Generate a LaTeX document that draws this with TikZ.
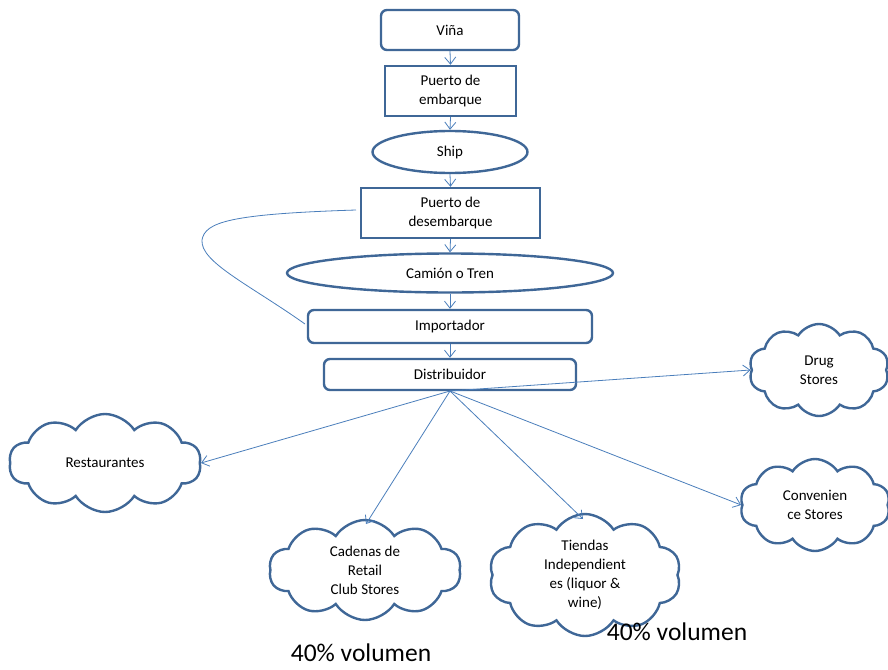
\documentclass[tikz,border=0pt]{standalone}
\usepackage{fontspec}
\setmainfont{Carlito}
\usetikzlibrary{shapes.geometric,shapes.symbols,arrows.meta}
\definecolor{boxline}{HTML}{3F6797}
\definecolor{arrowc}{HTML}{4A7EBB}
\tikzset{
  base/.style={draw=boxline, line width=2.4pt, fill=white, align=center, font=\fontsize{15}{19}\selectfont, inner sep=0pt},
  rbox/.style={base, rounded corners=6pt},
  sbox/.style={base},
  ell/.style={base, ellipse},
  cloudn/.style={base, cloud, cloud puffs=10, cloud puff arc=115, cloud ignores aspect, line width=2.4pt},
  arr/.style={draw=arrowc, line width=0.8pt, -{Straight Barb[length=7pt,width=11pt]}},
  thinline/.style={draw=arrowc, line width=0.8pt},
  vol/.style={font=\fontsize{25.5}{30}\selectfont, inner sep=0pt}
}
\begin{document}
\begin{tikzpicture}[x=1pt,y=-1pt]
\useasboundingbox (0,0) rectangle (888,669);
\node[rbox, minimum width=138pt, minimum height=40pt] (vina) at (450,30) {Viña};
\node[sbox, minimum width=131pt, minimum height=50pt] (pemb) at (450.5,91) {Puerto de\\embarque};
\node[ell, minimum width=155pt, minimum height=42pt] (ship) at (450,152) {Ship};
\node[sbox, minimum width=179pt, minimum height=50pt] (pdes) at (450.5,213) {Puerto de\\desembarque};
\node[ell, minimum width=326pt, minimum height=39pt] (cam) at (450,273) {Camión o Tren};
\node[rbox, minimum width=284pt, minimum height=33pt] (imp) at (450,326.5) {Importador};
\node[rbox, minimum width=252pt, minimum height=31pt] (dist) at (450,374.5) {Distribuidor};

\node[cloudn, minimum width=140pt, minimum height=92pt] (drug) at (819,370) {Drug\\Stores};
\node[cloudn, minimum width=192pt, minimum height=98pt] (rest) at (105,463) {Restaurantes};
\node[cloudn, minimum width=192pt, minimum height=100pt] (cad) at (365,570) {Cadenas de\\Retail\\Club Stores};
\node[cloudn, minimum width=192pt, minimum height=122pt] (tie) at (585,575) {Tiendas\\Independient\\es (liquor \&\\wine)};
\node[cloudn, minimum width=150pt, minimum height=92pt] (conv) at (815,505) {Convenien\\ce Stores};

\node[vol] (v1) at (361,653) {40\% volumen};
\node[vol] (v2) at (677,632) {40\% volumen};

\draw[arr] (vina.south) -- (pemb.north);
\draw[arr] (pemb.south) -- (ship.north);
\draw[arr] (ship.south) -- (pdes.north);
\draw[arr] (pdes.south) -- (cam.north);
\draw[arr] (cam.south) -- (imp.north);
\draw[arr] (imp.south) -- (dist.north);

\coordinate (hub) at (450,391);
\draw[arr] (hub) -- (drug.west);
\draw[arr] (hub) -- (rest.east);
\draw[arr] (hub) -- (366,524);
\draw[arr] (hub) -- (583,519);
\draw[arr] (hub) -- (conv.west);

\coordinate (c1) at (356,210);
\coordinate (c2) at (305,324);
\draw[thinline] (c1) .. controls (230,214) and (205,222) .. (202,240) .. controls (200,262) and (250,285) .. (c2);
\end{tikzpicture}
\end{document}
